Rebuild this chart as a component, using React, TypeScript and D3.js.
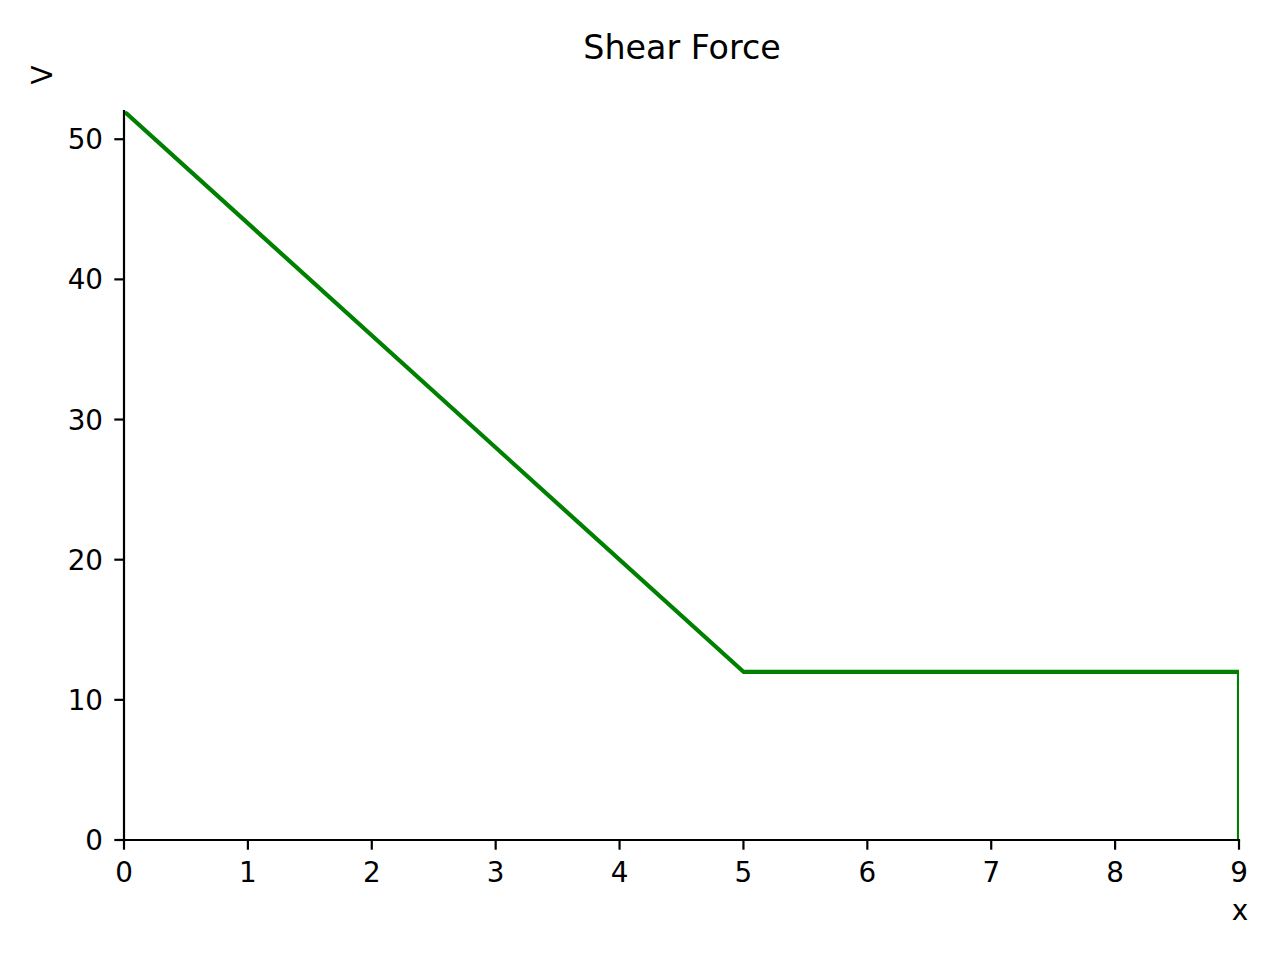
import React from "react";
import * as d3 from "d3";

const xs = [0, 5, 9, 9];
const vs = [52, 12, 12, 0];
const xTicks = [0, 1, 2, 3, 4, 5, 6, 7, 8, 9];
const yTicks = [0, 10, 20, 30, 40, 50];
const title = "Shear Force";
const xLabel = "x";
const yLabel = "V";

export default function App() {
  const W = 1280, H = 960;
  const left = 124, right = 1239, top = 111.2, bottom = 840;
  const x = d3.scaleLinear().domain([0, 9]).range([left, right]);
  const y = d3.scaleLinear().domain([0, 52]).range([bottom, top]);
  const line = d3.line<number>().x((d, i) => x(xs[i])).y((d) => y(d));
  const font = "'DejaVu Sans', sans-serif";
  const fs = 27.8;
  const tick = 9.7;
  return (
    <svg width={W} height={H} style={{ position: "absolute", left: 0, top: 0, background: "#fff" }}>
      <defs>
        <clipPath id="plot">
          <rect x={left} y={top} width={right - left} height={bottom - top} />
        </clipPath>
      </defs>
      <rect width={W} height={H} fill="#fff" />
      <text x={682} y={59} textAnchor="middle" fontFamily={font} fontSize={33.3}>{title}</text>
      <path d={line(vs) || ""} fill="none" stroke="green" strokeWidth={4.2} strokeLinejoin="round" clipPath="url(#plot)" />
      <line x1={left} x2={left} y1={top} y2={bottom} stroke="#000" strokeWidth={2.2} strokeLinecap="square" />
      <line x1={left} x2={right} y1={bottom} y2={bottom} stroke="#000" strokeWidth={2.2} strokeLinecap="square" />
      {xTicks.map((t) => (
        <g key={"x" + t}>
          <line x1={x(t)} x2={x(t)} y1={bottom} y2={bottom + tick} stroke="#000" strokeWidth={2.2} />
          <text x={x(t)} y={882} textAnchor="middle" fontFamily={font} fontSize={fs}>{t}</text>
        </g>
      ))}
      {yTicks.map((t) => (
        <g key={"y" + t}>
          <line x1={left - tick} x2={left} y1={y(t)} y2={y(t)} stroke="#000" strokeWidth={2.2} />
          <text x={103} y={y(t) + 10} textAnchor="end" fontFamily={font} fontSize={fs}>{t}</text>
        </g>
      ))}
      <text x={1240} y={920} textAnchor="middle" fontFamily={font} fontSize={fs}>{xLabel}</text>
      <text transform="translate(52,75) rotate(-90)" textAnchor="middle" fontFamily={font} fontSize={fs}>{yLabel}</text>
    </svg>
  );
}
